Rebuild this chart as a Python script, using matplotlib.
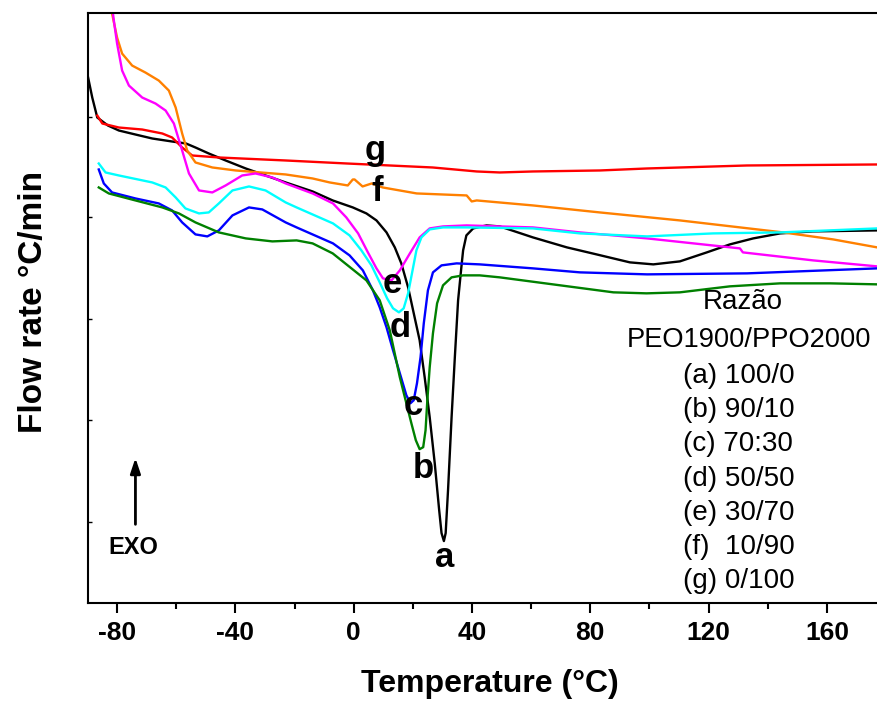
"""DSC curves of PEO1900/PPO2000 blends (ratios a-g), recreated with matplotlib."""

import matplotlib

matplotlib.use("Agg")
import matplotlib.pyplot as plt  # noqa: E402

plt.rcParams["font.family"] = ["Liberation Sans", "DejaVu Sans"]
plt.rcParams["axes.unicode_minus"] = False

# temperature (degC) and heat flow (arbitrary units, exo up)
t_a = [-89.8, -88.4, -86.7, -83.1, -79.4, -73.8, -68.1, -61.4, -56.7, -53.5, -49.0, -43.3,
       -36.5, -29.8, -23.0, -13.9, -7.1, -0.3, 4.3, 7.7, 11.1, 13.9, 16.1, 18.4, 20.6,
       22.3, 24.0, 25.7, 27.4, 28.9, 29.7, 30.5, 31.1, 31.9, 33.1, 34.2, 35.3, 36.4, 37.0,
       38.1, 40.4, 44.9, 49.4, 60.6, 72.1, 82.1, 93.4, 101.3, 110.3, 119.4, 127.2, 135.1,
       144.2, 155.3, 177]
y_a = [526, 506, 486, 478, 473, 469, 465, 462, 460, 456, 450, 443, 435, 428, 421, 412, 403,
       396, 390, 383, 371, 356, 340, 316, 286, 263, 226, 186, 140, 93, 70, 62, 70, 113, 186,
       246, 303, 336, 353, 368, 375, 378, 377, 366, 356, 349, 341, 339, 342, 351, 359, 365,
       370, 372, 373]

t_b = [-86.2, -82.8, -73.8, -64.7, -59.1, -53.5, -45.6, -36.5, -27.5, -19.3, -13.9, -7.1,
       4.3, 8.8, 12.2, 15.6, 17.8, 19.5, 21.0, 22.3, 23.5, 24.3, 24.9, 25.7, 26.8, 28.2,
       30.2, 33.1, 37.0, 42.6, 49.4, 87.8, 99.0, 110.3, 127.2, 144.2, 161.1, 177]
y_b = [416, 410, 403, 396, 390, 381, 371, 365, 362, 363, 360, 350, 323, 303, 273, 226, 200,
       180, 163, 154, 156, 173, 203, 236, 270, 300, 318, 326, 328, 328, 326, 311, 310, 311,
       317, 320, 320, 319]

t_c = [-86.2, -84.5, -81.7, -73.8, -65.9, -61.4, -58.0, -53.5, -49.5, -45.6, -41.0, -35.4,
       -30.9, -23.0, -19.3, -7.0, -1.4, 3.1, 6.5, 8.8, 11.1, 13.3, 15.6, 17.8, 19.2, 20.3,
       21.4, 22.6, 23.7, 25.1, 26.8, 29.7, 34.8, 42.6, 60.6, 76.5, 99.2, 133.0, 177]
y_c = [434, 420, 411, 405, 400, 393, 381, 369, 367, 373, 388, 396, 394, 381, 376, 360, 348,
       333, 313, 296, 276, 253, 230, 208, 200, 203, 220, 246, 280, 313, 331, 338, 340, 339,
       335, 331, 329, 330, 335]

t_d = [-86.2, -83.9, -79.4, -68.1, -63.6, -60.2, -56.9, -52.3, -49.0, -45.6, -41.0, -35.4,
       -29.8, -23.0, -19.3, -7.0, -1.4, 2.6, 6.0, 8.8, 11.3, 13.3, 15.3, 16.9, 18.4, 19.9,
       21.2, 22.9, 25.7, 30.2, 38.2, 60.6, 76.5, 99.2, 121.5, 144.2, 177]
y_d = [440, 431, 428, 421, 416, 406, 395, 390, 391, 400, 413, 417, 413, 401, 396, 380, 368,
       353, 338, 321, 305, 295, 291, 295, 310, 333, 353, 366, 374, 376, 376, 375, 370, 367,
       370, 371, 375]

t_e = [-81.6, -81.1, -80.0, -78.3, -76.0, -71.5, -67.0, -63.6, -60.8, -58.0, -55.7, -52.3,
       -47.8, -43.3, -37.7, -33.2, -27.5, -23.0, -13.9, -7.0, -2.5, 1.5, 4.8, 7.7, 9.9,
       12.8, 15.6, 19.0, 22.3, 25.7, 30.2, 38.2, 60.6, 76.5, 99.2, 130.6, 131.6, 155.3, 177]
y_e = [595, 583, 560, 533, 518, 506, 500, 493, 480, 453, 430, 413, 411, 418, 428, 430, 426,
       420, 410, 400, 386, 370, 351, 335, 325, 323, 333, 350, 366, 375, 377, 378, 376, 371,
       365, 355, 351, 343, 337]

t_f = [-82.3, -81.7, -80.0, -78.3, -74.9, -70.4, -65.9, -62.5, -60.2, -58.0, -56.3, -53.5,
       -47.8, -39.9, -23.0, -13.9, -8.1, -2.0, -0.3, 0.3, 3.0, 6.1, 9.8, 21.3, 38.2, 39.9,
       41.6, 60.6, 83.2, 110.3, 145.2, 162.1, 177]
y_f = [600, 590, 566, 550, 538, 531, 523, 513, 496, 470, 453, 441, 436, 433, 429, 425, 421,
       418, 424, 424, 417, 420, 416, 410, 408, 402, 403, 398, 391, 383, 371, 364, 356]

t_g = [-86.7, -85.0, -79.4, -71.5, -64.7, -61.4, -58.0, -54.6, -45.6, -23.0, -2.4, 26.7,
       41.6, 49.4, 60.6, 83.2, 99.2, 133.0, 177]
y_g = [488, 480, 476, 474, 470, 466, 456, 448, 446, 443, 440, 436, 432, 431, 432, 433, 435,
       438, 439]

curves = [
    (t_a, y_a, "black"),
    (t_g, y_g, "#ff0000"),
    (t_f, y_f, "#ff8000"),
    (t_e, y_e, "#ff00ff"),
    (t_d, y_d, "#00ffff"),
    (t_c, y_c, "#0000ff"),
    (t_b, y_b, "#008000"),
]

# curve letters: temperature and baseline height
letters = ["a", "b", "c", "d", "e", "f", "g"]
letter_t = [30.8, 23.4, 20.0, 15.6, 12.9, 7.8, 7.1]
letter_y = [36, 125, 188, 266, 310, 402, 443]

ratio_title = ["Razão", "PEO1900/PPO2000"]
ratio_title_y = [301, 263]
ratio_items = ["(a) 100/0", "(b) 90/10", "(c) 70:30", "(d) 50/50", "(e) 30/70",
               "(f)  10/90", "(g) 0/100"]
ratio_items_y = [227, 193, 159, 124, 90, 56, 22]

xticks = [-80, -40, 0, 40, 80, 120, 160]
yticks = [81, 183, 284, 386, 487]

fig = plt.figure(figsize=(8.77, 7.02), dpi=100)
ax = fig.add_axes([0.0998, 0.141, 0.9105, 0.841])

for t, y, c in curves:
    ax.plot(t, y, color=c, lw=1.7, solid_joinstyle="round")

for s, t, y in zip(letters, letter_t, letter_y):
    ax.text(t, y, s, fontsize=25, fontweight="bold", ha="center", va="baseline")

ax.text(131.6, ratio_title_y[0], ratio_title[0], fontsize=20, ha="center", va="center")
ax.text(92.2, ratio_title_y[1], ratio_title[1], fontsize=19.6, ha="left", va="center")
for s, y in zip(ratio_items, ratio_items_y):
    ax.text(111.3, y, s, fontsize=20, ha="left", va="center")

ax.annotate("", xy=(-73.8, 148), xytext=(-73.8, 76),
            arrowprops=dict(arrowstyle="-|>,head_length=0.9,head_width=0.3",
                            color="black", lw=2))
ax.text(-74.4, 56, "EXO", fontsize=17, fontweight="bold", ha="center", va="center")

ax.set_xlim(-90, 180)
ax.set_ylim(0, 591)
ax.set_xticks(xticks)
ax.set_xticks(range(-60, 180, 40), minor=True)
ax.set_yticks(yticks)
ax.set_yticklabels([])
ax.tick_params(axis="x", which="major", direction="out", length=7, width=1.5,
               labelsize=19, pad=6)
ax.tick_params(axis="x", which="minor", direction="out", length=4, width=1.5)
ax.tick_params(axis="y", direction="in", length=3, width=1)
for lab in ax.get_xticklabels():
    lab.set_fontweight("bold")
for sp in ax.spines.values():
    sp.set_linewidth(1.5)

ax.set_xlabel("Temperature (°C)", fontsize=23, fontweight="bold")
ax.set_ylabel("Flow rate °C/min", fontsize=24, fontweight="bold")
ax.xaxis.set_label_coords(0.504, -0.112)
ax.yaxis.set_label_coords(-0.048, 0.51)

fig.savefig("out.png", dpi=100)
